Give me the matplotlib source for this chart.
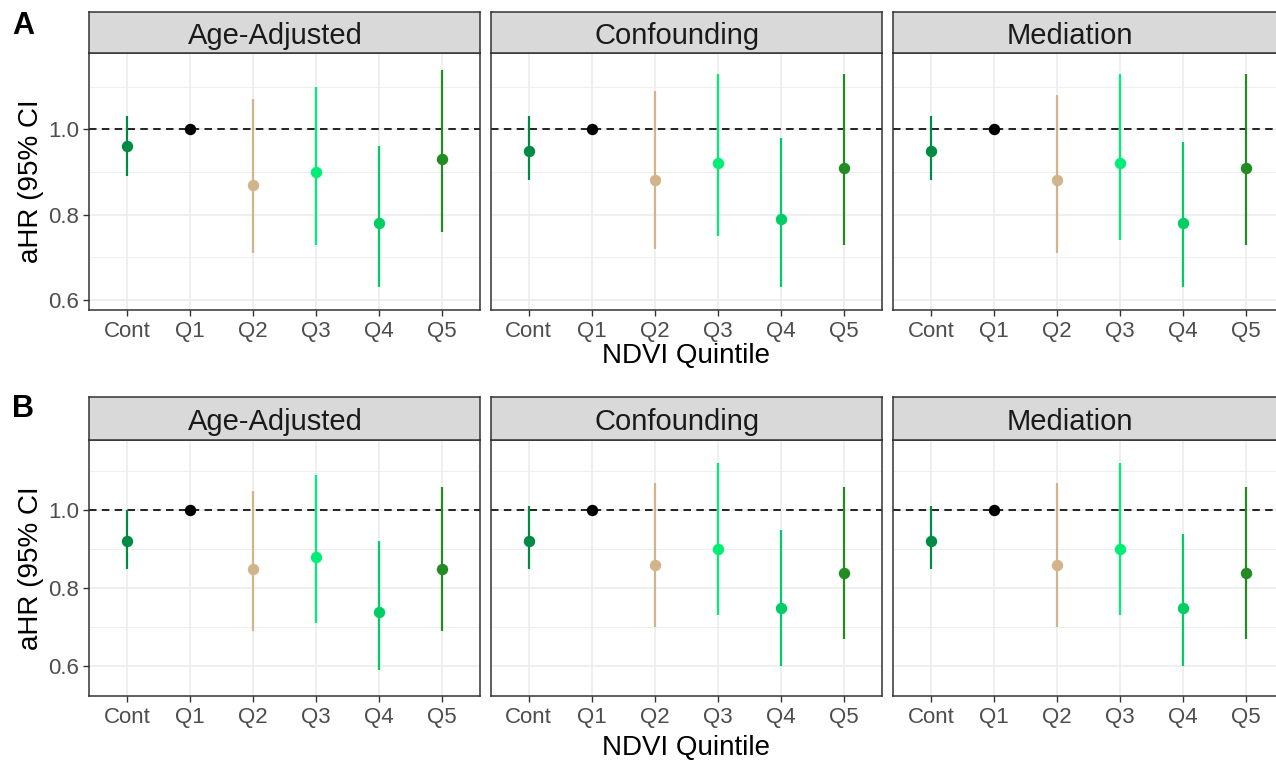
import matplotlib
matplotlib.use("Agg")
import matplotlib.pyplot as plt
from matplotlib.ticker import FixedLocator

plt.rcParams['font.family'] = ['Liberation Sans', 'DejaVu Sans']

categories = ["Cont", "Q1", "Q2", "Q3", "Q4", "Q5"]
models = ["Age-Adjusted", "Confounding", "Mediation"]
cat_colors = ["#008b45", "#000000", "#d2b48c", "#00ee76", "#00cd66", "#228b22"]

# Panel A
A_age_est = [0.96, 1.00, 0.87, 0.90, 0.78, 0.93]
A_age_lo = [0.89, None, 0.71, 0.73, 0.63, 0.76]
A_age_hi = [1.03, None, 1.07, 1.10, 0.96, 1.14]
A_conf_est = [0.95, 1.00, 0.88, 0.92, 0.79, 0.91]
A_conf_lo = [0.88, None, 0.72, 0.75, 0.63, 0.73]
A_conf_hi = [1.03, None, 1.09, 1.13, 0.98, 1.13]
A_med_est = [0.95, 1.00, 0.88, 0.92, 0.78, 0.91]
A_med_lo = [0.88, None, 0.71, 0.74, 0.63, 0.73]
A_med_hi = [1.03, None, 1.08, 1.13, 0.97, 1.13]

# Panel B
B_age_est = [0.92, 1.00, 0.85, 0.88, 0.74, 0.85]
B_age_lo = [0.85, None, 0.69, 0.71, 0.59, 0.69]
B_age_hi = [1.00, None, 1.05, 1.09, 0.92, 1.06]
B_conf_est = [0.92, 1.00, 0.86, 0.90, 0.75, 0.84]
B_conf_lo = [0.85, None, 0.70, 0.73, 0.60, 0.67]
B_conf_hi = [1.01, None, 1.07, 1.12, 0.95, 1.06]
B_med_est = [0.92, 1.00, 0.86, 0.90, 0.75, 0.84]
B_med_lo = [0.85, None, 0.70, 0.73, 0.60, 0.67]
B_med_hi = [1.01, None, 1.07, 1.12, 0.94, 1.06]

rows = [
    ("A", [(A_age_est, A_age_lo, A_age_hi), (A_conf_est, A_conf_lo, A_conf_hi), (A_med_est, A_med_lo, A_med_hi)]),
    ("B", [(B_age_est, B_age_lo, B_age_hi), (B_conf_est, B_conf_lo, B_conf_hi), (B_med_est, B_med_lo, B_med_hi)]),
]

W, H = 1276, 760
fig = plt.figure(figsize=(W / 100, H / 100), dpi=100)

def rect(x0, y0, x1, y1):
    return [x0 / W, 1 - y1 / H, (x1 - x0) / W, (y1 - y0) / H]

panel_left = [89.3, 491.0, 893.3]
panel_w = 390.6
strip_text_x = [275.5, 677.5, 1070.0]
row_geom = [  # strip_top, plot_top, plot_bottom, ylim
    (12.0, 53.3, 310.0, (0.5766, 1.178)),
    (397.3, 440.0, 695.5, (0.5247, 1.18)),
]
xlabel_y = [356, 748]
letter_y = [26, 409]

edge = "#333333"
for r, (letter, panels) in enumerate(rows):
    st, pt, pb, ylim = row_geom[r]
    for p, (est, lo, hi) in enumerate(panels):
        x0 = panel_left[p]
        ax = fig.add_axes(rect(x0, pt, x0 + panel_w, pb))
        ax.set_xlim(-0.6, 5.6)
        ax.set_ylim(*ylim)
        ax.set_facecolor("white")
        ax.yaxis.set_major_locator(FixedLocator([0.6, 0.8, 1.0]))
        ax.yaxis.set_minor_locator(FixedLocator([0.7, 0.9, 1.1]))
        ax.set_xticks(range(len(categories)))
        ax.set_xticklabels(categories)
        ax.grid(which="major", color="#ebebeb", linewidth=1.1, zorder=0)
        ax.grid(which="minor", axis="y", color="#ebebeb", linewidth=0.6, zorder=0)
        ax.set_axisbelow(True)
        ax.axhline(1.0, color="black", linestyle=(0, (4.5, 3.2)), linewidth=1.2, zorder=2)
        for i, c in enumerate(categories):
            if lo[i] is not None:
                ax.vlines(i, lo[i], hi[i], color=cat_colors[i], linewidth=1.6, zorder=3)
            ax.plot(i, est[i], "o", color=cat_colors[i], markersize=7.2, zorder=4)
        for s in ax.spines.values():
            s.set_color(edge)
            s.set_linewidth(1.1)
        ax.tick_params(axis="both", which="major", length=4.2, width=1.0, color=edge,
                       labelsize=16, labelcolor="#4d4d4d")
        ax.tick_params(axis="x", pad=4)
        ax.tick_params(axis="y", pad=3)
        ax.tick_params(which="minor", length=0)
        if p == 0:
            ax.set_ylabel("aHR (95% CI", fontsize=20, labelpad=3)
        else:
            ax.set_yticklabels([])
            ax.tick_params(axis="y", length=0)
        if p == 1:
            fig.text((x0 + panel_w / 2) / W, 1 - xlabel_y[r] / H, "NDVI Quintile",
                     fontsize=20, ha="center", va="center")
        # strip
        sax = fig.add_axes(rect(x0, st, x0 + panel_w, pt))
        sax.set_facecolor("#d9d9d9")
        sax.set_xticks([])
        sax.set_yticks([])
        for s in sax.spines.values():
            s.set_color(edge)
            s.set_linewidth(1.1)
        sax.text((strip_text_x[p] - x0) / panel_w, 0.42, models[p], fontsize=21,
                 ha="center", va="center", color="#1a1a1a", transform=sax.transAxes)
    fig.text(12 / W, 1 - letter_y[r] / H, letter, fontsize=22, fontweight="bold",
             ha="left", va="center")

fig.savefig("out.png", dpi=100)
